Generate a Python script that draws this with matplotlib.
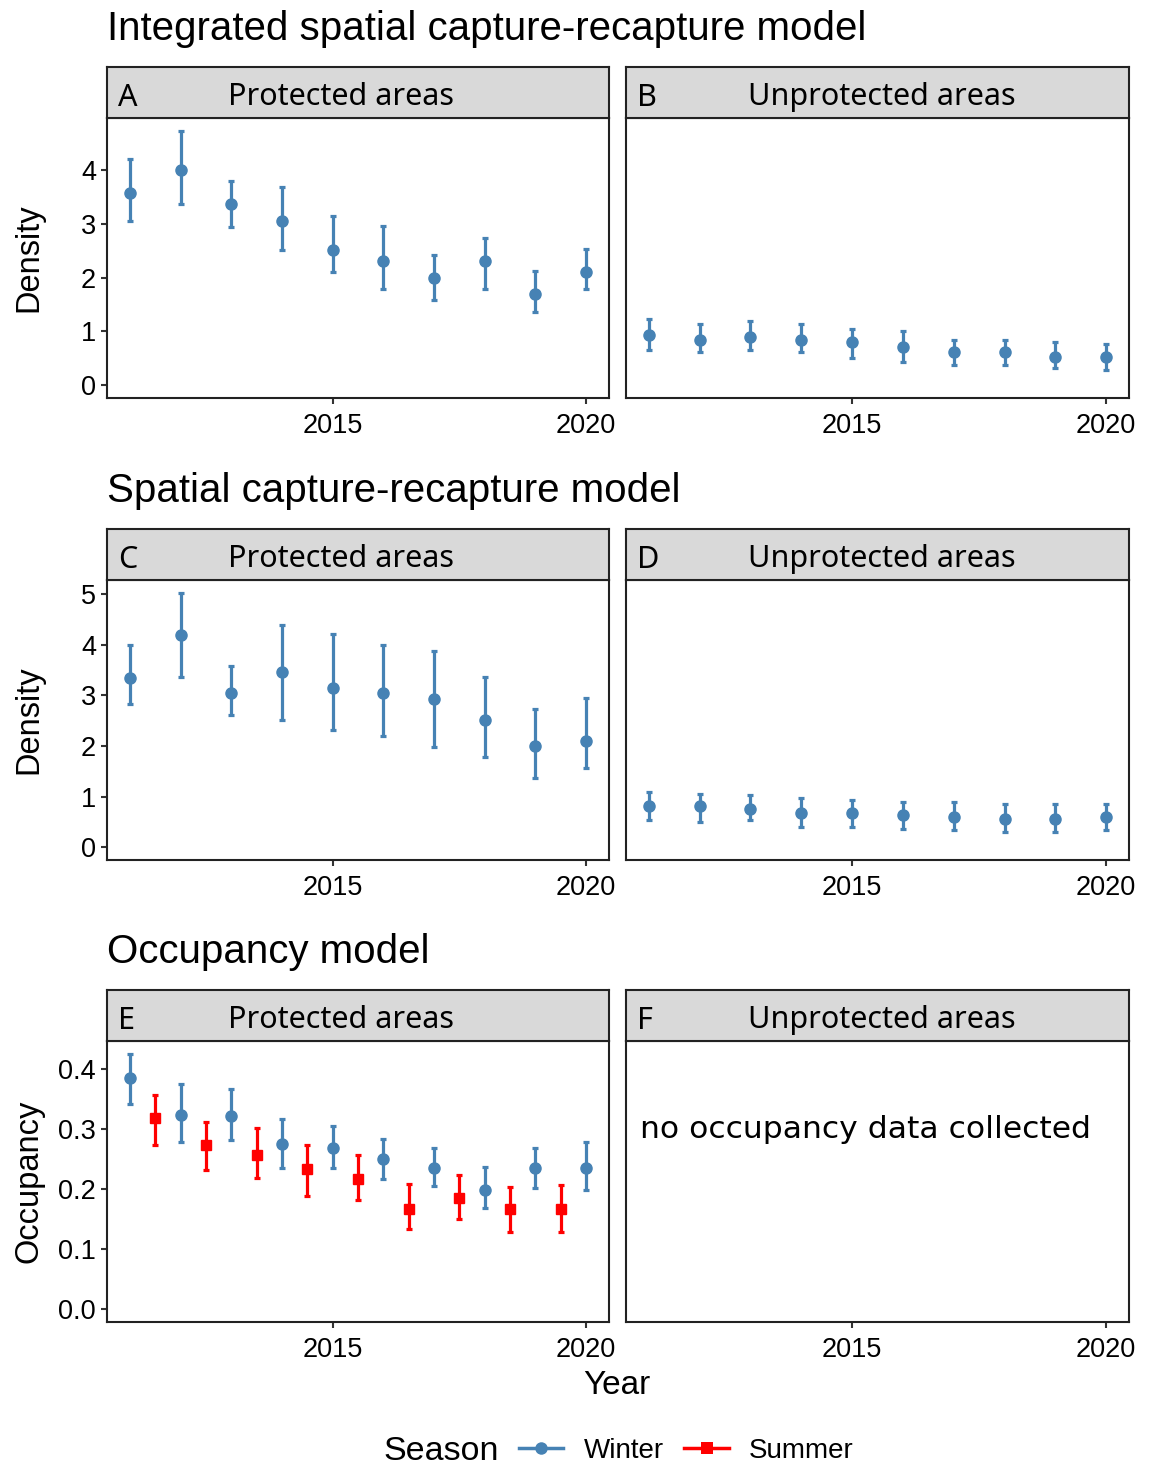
import matplotlib
matplotlib.use("Agg")
import matplotlib.pyplot as plt
from matplotlib.lines import Line2D
import numpy as np

# ---------------- data ----------------
years = [2011, 2012, 2013, 2014, 2015, 2016, 2017, 2018, 2019, 2020]
summer_years = [2011.5, 2012.5, 2013.5, 2014.5, 2015.5, 2016.5, 2017.5, 2018.5, 2019.5]

# Integrated SCR - protected (A)
a_est = [3.58, 4.00, 3.36, 3.05, 2.52, 2.31, 1.99, 2.31, 1.69, 2.10]
a_lo = [3.05, 3.36, 2.94, 2.52, 2.10, 1.78, 1.59, 1.78, 1.36, 1.78]
a_hi = [4.21, 4.73, 3.79, 3.69, 3.15, 2.96, 2.43, 2.73, 2.12, 2.53]
# Integrated SCR - unprotected (B)
b_est = [0.94, 0.85, 0.90, 0.85, 0.80, 0.71, 0.62, 0.62, 0.52, 0.52]
b_lo = [0.66, 0.61, 0.66, 0.61, 0.51, 0.43, 0.37, 0.37, 0.33, 0.28]
b_hi = [1.23, 1.14, 1.19, 1.14, 1.04, 1.00, 0.85, 0.85, 0.81, 0.77]
# SCR - protected (C)
c_est = [3.35, 4.20, 3.04, 3.46, 3.15, 3.04, 2.93, 2.52, 2.00, 2.10]
c_lo = [2.84, 3.36, 2.62, 2.52, 2.31, 2.20, 1.99, 1.78, 1.37, 1.57]
c_hi = [3.99, 5.03, 3.58, 4.40, 4.21, 3.99, 3.88, 3.37, 2.74, 2.94]
# SCR - unprotected (D)
d_est = [0.81, 0.81, 0.76, 0.68, 0.68, 0.63, 0.59, 0.55, 0.55, 0.59]
d_lo = [0.54, 0.49, 0.54, 0.41, 0.41, 0.37, 0.34, 0.30, 0.30, 0.34]
d_hi = [1.10, 1.06, 1.03, 0.97, 0.93, 0.90, 0.90, 0.86, 0.86, 0.86]
# Occupancy - protected (E), winter
ew_est = [0.384, 0.323, 0.322, 0.275, 0.268, 0.250, 0.235, 0.199, 0.235, 0.235]
ew_lo = [0.341, 0.279, 0.282, 0.235, 0.235, 0.216, 0.205, 0.169, 0.202, 0.199]
ew_hi = [0.425, 0.374, 0.367, 0.316, 0.305, 0.283, 0.268, 0.236, 0.268, 0.279]
# Occupancy - protected (E), summer
es_est = [0.318, 0.274, 0.257, 0.233, 0.216, 0.167, 0.185, 0.167, 0.167]
es_lo = [0.274, 0.232, 0.219, 0.188, 0.181, 0.133, 0.150, 0.129, 0.129]
es_hi = [0.357, 0.312, 0.302, 0.274, 0.257, 0.209, 0.224, 0.204, 0.206]

row_titles = ["Integrated spatial capture-recapture model",
              "Spatial capture-recapture model",
              "Occupancy model"]
panel_letters = ["A", "B", "C", "D", "E", "F"]
strip_labels = ["Protected areas", "Unprotected areas"]
y_labels = ["Density", "Density", "Occupancy"]
season_labels = ["Winter", "Summer"]
x_ticks = [2015, 2020]

WINTER = "#4682B4"
SUMMER = "#FF0000"
AX_FONT = "Liberation Sans"
STRIP_FONT = "Noto Sans"

# ---------------- figure ----------------
W, H = 1152, 1468
fig = plt.figure(figsize=(W / 100, H / 100), dpi=100)

def fx(px):
    return px / W

def fy(py):
    return 1 - py / H

lefts = [107, 626]
widths = [502, 503]
plot_tops = [118, 580, 1041]
plot_bottoms = [398, 860, 1322]
strip_h = 51
title_y = [29, 491, 952]

def ylim_from(lows, highs):
    lo = min(0, min(lows))
    hi = max(highs)
    pad = 0.05 * (hi - lo)
    return lo - pad, hi + pad

xlo, xhi = min(years), max(years)
xpad = 0.05 * (xhi - xlo)

row_data = [
    [(a_est, a_lo, a_hi), (b_est, b_lo, b_hi)],
    [(c_est, c_lo, c_hi), (d_est, d_lo, d_hi)],
]
row_ylims = [
    ylim_from(a_lo + b_lo, a_hi + b_hi),
    ylim_from(c_lo + d_lo, c_hi + d_hi),
    ylim_from(ew_lo + es_lo, ew_hi + es_hi),
]
row_yticks = [[0, 1, 2, 3, 4], [0, 1, 2, 3, 4, 5], [0.0, 0.1, 0.2, 0.3, 0.4]]

strip_text_x = [(341 - 107) / 502, (882 - 626) / 503]

def draw_err(ax, x, est, lo, hi, color, marker, ms):
    est = np.asarray(est); lo = np.asarray(lo); hi = np.asarray(hi)
    ax.errorbar(x, est, yerr=[est - lo, hi - est], fmt=marker, color=color,
                ms=ms, mec=color, elinewidth=2.3, capsize=2.3, capthick=2.3,
                zorder=3)

for r in range(3):
    fig.text(fx(107), fy(title_y[r]), row_titles[r], fontsize=29,
             family=AX_FONT, ha="left", va="center")
    for c in range(2):
        l, w = lefts[c], widths[c]
        t, b = plot_tops[r], plot_bottoms[r]
        ax = fig.add_axes([fx(l), fy(b), w / W, (b - t) / H])
        # strip
        sax = fig.add_axes([fx(l), fy(t), w / W, strip_h / H])
        sax.set_facecolor("#D9D9D9")
        sax.set_xticks([]); sax.set_yticks([])
        for sp in sax.spines.values():
            sp.set_linewidth(1.5); sp.set_color("#222222")
        sax.text(0.022, 0.40, panel_letters[2 * r + c], transform=sax.transAxes,
                 fontsize=22, family=STRIP_FONT, ha="left", va="center")
        sax.text(strip_text_x[c], 0.42, strip_labels[c], transform=sax.transAxes,
                 fontsize=22, family=STRIP_FONT, ha="center", va="center")

        if r < 2:
            est, lo, hi = row_data[r][c]
            draw_err(ax, years, est, lo, hi, WINTER, "o", 8)
        elif c == 0:
            draw_err(ax, years, ew_est, ew_lo, ew_hi, WINTER, "o", 8)
            draw_err(ax, summer_years, es_est, es_lo, es_hi, SUMMER, "s", 7.2)
        else:
            ax.text((640 - 626) / 503, (1322 - 1130) / 281,
                    "no occupancy data collected", transform=ax.transAxes,
                    fontsize=22.6, family="DejaVu Sans", ha="left", va="center")

        ax.set_xlim(xlo - xpad, xhi + xpad)
        ax.set_ylim(*row_ylims[r])
        ax.set_xticks(x_ticks)
        ax.set_xticklabels([str(v) for v in x_ticks], family=AX_FONT, fontsize=19.5)
        ax.set_yticks(row_yticks[r])
        if c == 0:
            if r == 2:
                ax.set_yticklabels([f"{v:.1f}" for v in row_yticks[r]],
                                   family=AX_FONT, fontsize=19.5)
            else:
                ax.set_yticklabels([str(v) for v in row_yticks[r]],
                                   family=AX_FONT, fontsize=19.5)
            ax.set_ylabel(y_labels[r], family=AX_FONT, fontsize=23.5)
            ax.yaxis.set_label_coords((44 - 107) / 502, 0.5)
            ax.tick_params(axis="y", length=4, width=1.5, pad=4, color="#333333")
        else:
            ax.tick_params(axis="y", left=False, labelleft=False)
        ax.tick_params(axis="x", length=4, width=1.5, pad=7, color="#333333")
        for sp in ax.spines.values():
            sp.set_linewidth(1.5); sp.set_color("#222222")

fig.text(fx(617), fy(1386), "Year", family=AX_FONT, fontsize=24,
         ha="center", va="center")

# legend
fig.text(fx(383), fy(1451), "Season", family=AX_FONT, fontsize=24.5,
         ha="left", va="center")
handles = [Line2D([0], [0], color=WINTER, marker="o", lw=2.5, ms=9, markeredgewidth=0),
           Line2D([0], [0], color=SUMMER, marker="s", lw=2.5, ms=8.5, markeredgewidth=0)]
fig.legend(handles, season_labels, loc="center left",
           bbox_to_anchor=(fx(519), fy(1451)), ncol=2, frameon=False,
           prop={"family": AX_FONT, "size": 20}, handlelength=1.6,
           handletextpad=0.72, columnspacing=0.75, borderpad=0, borderaxespad=0)

fig.savefig("out.png", dpi=100)
